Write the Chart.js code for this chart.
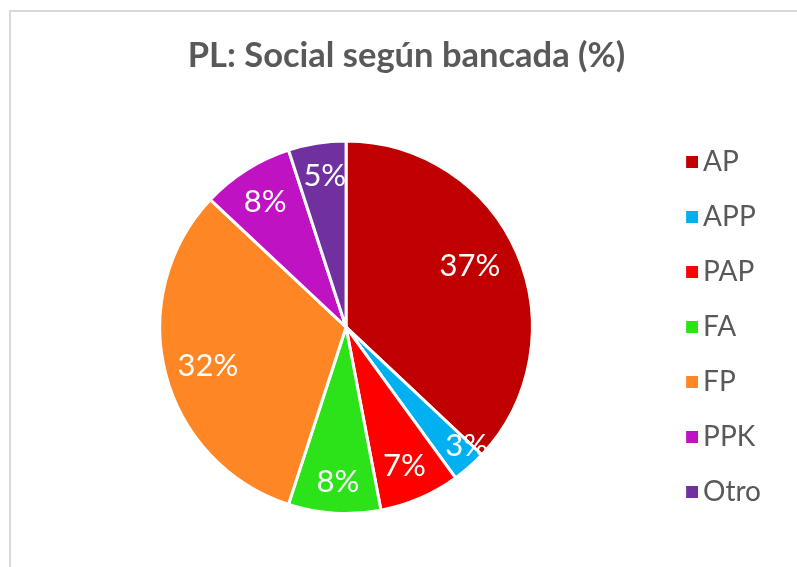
<!DOCTYPE html>
<html>
<head>
<meta charset="utf-8">
<script src="https://cdn.jsdelivr.net/npm/chart.js@4.4.1/dist/chart.umd.min.js"></script>
<style>
html,body{margin:0;padding:0;background:#fff;overflow:hidden;}
#frame{position:absolute;left:9px;top:10px;width:900px;height:700px;border:2px solid #d9d9d9;box-sizing:border-box;}
#wrap{position:absolute;left:0;top:0;width:797px;height:567px;}
</style>
</head>
<body>
<div id="frame"></div>
<div id="wrap"><canvas id="c" width="797" height="567"></canvas></div>
<script>
const titleText = 'PL: Social según bancada (%)';
const categories = ['AP','APP','PAP','FA','FP','PPK','Otro'];
const values = [37, 3, 7, 8, 32, 8, 5];
const colors = ['#C00000','#00B0F0','#FF0000','#2CE319','#FF8624','#BF13C3','#7030A0'];
const FONT = 'Lato, "Liberation Sans", sans-serif';

// legend marker: 12px square drawn at the right of a 30px wide canvas
function marker(color) {
  const cv = document.createElement('canvas');
  cv.width = 30; cv.height = 12;
  const g = cv.getContext('2d');
  g.fillStyle = color;
  g.fillRect(18, 0, 12, 12);
  return cv;
}
const markers = colors.map(marker);

// label placement: fraction of radius and angular nudge (degrees)
const labelRadius = [0.742, 0.91, 0.81, 0.83, 0.77, 0.80, 0.82];
const labelTurn = [-3, -4, 0.6, -0.6, -1.2, -0.5, 1];
const pieLabels = {
  id: 'pieLabels',
  afterDatasetsDraw(chart) {
    const ctx = chart.ctx;
    const meta = chart.getDatasetMeta(0);
    ctx.save();
    ctx.fillStyle = '#ffffff';
    ctx.font = '31px ' + FONT;
    ctx.textAlign = 'center';
    ctx.textBaseline = 'middle';
    meta.data.forEach((arc, i) => {
      const p = arc.getProps(['x','y','startAngle','endAngle','outerRadius'], true);
      const mid = (p.startAngle + p.endAngle) / 2 + labelTurn[i] * Math.PI / 180;
      const r = p.outerRadius * labelRadius[i];
      ctx.fillText(values[i] + '%', p.x + Math.cos(mid) * r, p.y + Math.sin(mid) * r);
    });
    ctx.restore();
  }
};

// centre the (full-height) legend on the plot area vertically
const legendCenter = {
  id: 'legendCenter',
  afterLayout(chart) {
    const lg = chart.legend, ca = chart.chartArea;
    if (!lg) return;
    const shift = (ca.top + ca.bottom) / 2 - (lg.top + lg.bottom) / 2;
    lg.top += shift;
    lg.bottom += shift;
  }
};

new Chart(document.getElementById('c'), {
  type: 'pie',
  data: {
    labels: categories,
    datasets: [{
      data: values,
      backgroundColor: colors,
      borderColor: '#ffffff',
      borderWidth: 3
    }]
  },
  options: {
    responsive: false,
    animation: false,
    layout: { padding: { left: 42, right: 26, top: 0, bottom: 52 } },
    plugins: {
      title: {
        display: true,
        text: titleText,
        color: '#595959',
        font: { family: FONT, size: 34.5, weight: 'bold' },
        padding: { top: 35, bottom: 63 }
      },
      legend: {
        position: 'right',
        fullSize: true,
        labels: {
          color: '#595959',
          font: { family: FONT, size: 28 },
          boxWidth: 12,
          boxHeight: 12,
          usePointStyle: true,
          pointStyleWidth: 12,
          padding: 27,
          generateLabels(chart) {
            const items = Chart.overrides.pie.plugins.legend.labels.generateLabels(chart);
            items.forEach((it, i) => { it.pointStyle = markers[i]; });
            return items;
          }
        }
      },
      tooltip: { enabled: false }
    }
  },
  plugins: [pieLabels, legendCenter]
});
</script>
</body>
</html>
